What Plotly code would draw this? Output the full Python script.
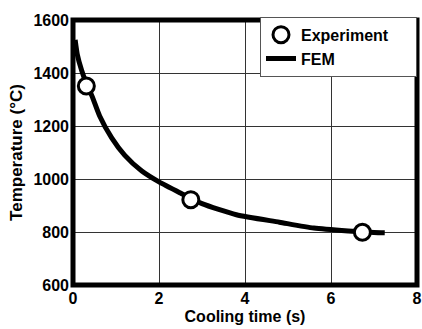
import plotly.graph_objects as go

# FEM simulated cooling curve
fem_time = [0.05, 0.1, 0.2, 0.3, 0.45, 0.62, 0.9, 1.2, 1.6, 2.0, 2.5, 3.0, 3.8, 4.8, 5.6, 6.4, 7.0, 7.25]
fem_temp = [1525, 1470, 1410, 1365, 1310, 1238, 1155, 1090, 1030, 989, 947, 907, 865, 837, 815, 804, 798, 797]

# Experimental measurements
exp_time = [0.31, 2.74, 6.73]
exp_temp = [1351, 922, 799]

x_ticks = [0, 2, 4, 6, 8]
y_ticks = [600, 800, 1000, 1200, 1400, 1600]

font_family = "Liberation Sans, Arial, sans-serif"
pad = "\u00a0" * 5

fig = go.Figure()
fig.add_trace(go.Scatter(
    x=fem_time, y=fem_temp, mode="lines", name="FEM" + pad, legendrank=2,
    legendgroup="b",
    line=dict(color="black", width=5, shape="spline", smoothing=0.6),
))
fig.add_trace(go.Scatter(
    x=exp_time, y=exp_temp, mode="markers", name="Experiment" + pad, legendrank=1,
    legendgroup="a",
    marker=dict(symbol="circle", size=16, color="white",
                line=dict(color="black", width=3)),
))

fig.update_layout(
    width=422, height=329,
    margin=dict(l=73, r=5, t=20, b=44),
    paper_bgcolor="white", plot_bgcolor="white",
    font=dict(family=font_family, color="black", size=15, weight="bold"),
    showlegend=True,
    legend=dict(
        x=1.0, y=1.012, xanchor="right", yanchor="top",
        bgcolor="white", bordercolor="#555555", borderwidth=1,
        font=dict(size=16, weight="bold"),
        traceorder="grouped", itemwidth=30, tracegroupgap=0,
    ),
    xaxis=dict(
        range=[0, 8], tickvals=x_ticks, ticks="", showgrid=True,
        gridcolor="#333333", gridwidth=1, zeroline=False, automargin=False,
        showline=False, tickfont=dict(size=16, weight="bold"), ticklabelstandoff=2,
        title=dict(text="Cooling time (s)", font=dict(size=16, weight="bold"), standoff=4),
    ),
    yaxis=dict(
        range=[600, 1600], tickvals=y_ticks, ticks="", showgrid=True,
        gridcolor="#333333", gridwidth=1, zeroline=False, automargin=False,
        showline=False, tickfont=dict(size=16, weight="bold"), ticklabelstandoff=3,
        title=dict(text="Temperature (°C)", font=dict(size=17, weight="bold"), standoff=6),
    ),
    shapes=[dict(type="rect", xref="paper", yref="paper", x0=0, y0=0, x1=1, y1=1,
                 line=dict(color="black", width=5), layer="above")],
)

fig.write_html(
    "out.html",
    config={"displayModeBar": False},
    post_script="document.body.style.margin='0';document.body.style.overflow='hidden';",
)
